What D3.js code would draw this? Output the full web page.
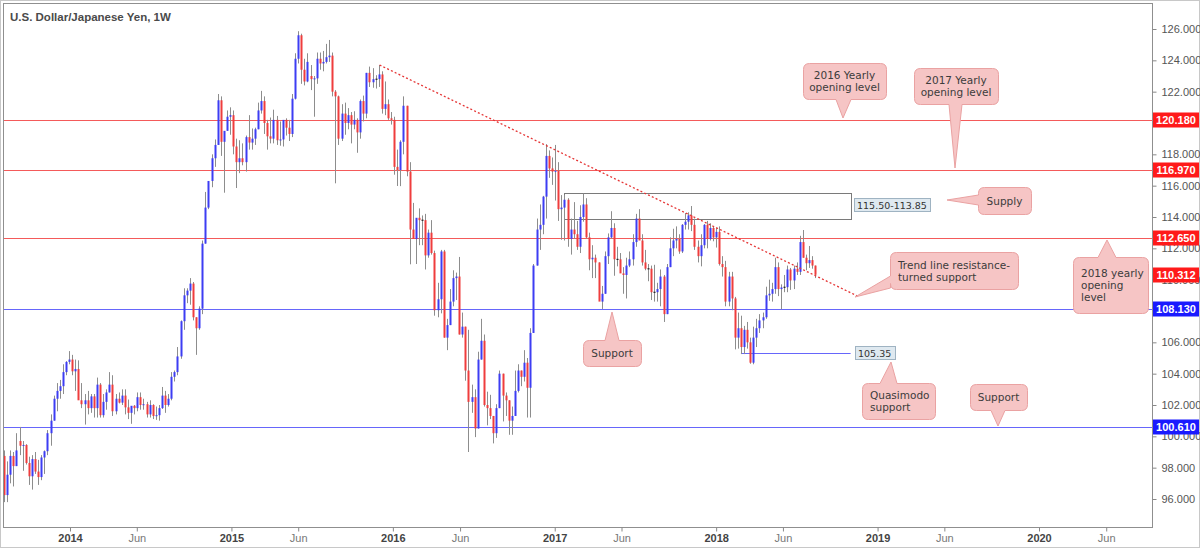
<!DOCTYPE html>
<html><head><meta charset="utf-8">
<script src="https://cdn.jsdelivr.net/npm/d3@7/dist/d3.min.js"></script>
<style>
html,body{margin:0;padding:0;background:#fff;}
svg{display:block;}
</style></head>
<body>
<svg id="chart" width="1200" height="548"></svg>
<script>
// ---------- DATA (weekly candles: [open, high, low, close]) ----------
const title = "U.S. Dollar/Japanese Yen, 1W";
const start2013 = "2013-08-05";
const candles2013 = [
[98.75,99.10,95.80,96.25],[96.25,98.40,95.80,97.55],[97.55,99.10,97.00,98.75],[98.75,99.00,96.80,98.10],
[98.10,100.20,98.10,99.10],[99.70,100.60,98.80,99.40],[99.40,99.70,97.80,99.45],[99.45,99.50,98.20,98.30],
[98.30,98.70,96.90,97.45],[97.45,98.80,96.60,98.55],[98.55,99.00,97.60,97.75],[97.75,98.50,96.90,97.40],
[97.40,98.80,97.20,98.65],[98.65,99.10,97.60,99.05],[99.05,100.40,98.80,100.20],[100.20,101.40,99.40,101.00],
[101.00,102.60,101.00,102.40],[102.40,103.40,101.60,102.90],[102.90,103.60,102.40,103.20],[103.20,104.60,102.70,104.10],
[104.10,104.80,103.90,104.75],[104.75,105.44,104.60,104.90]];
const start2014 = "2014-01-06";
const candles2014 = [
[104.90,105.20,103.90,104.15],[104.15,104.90,102.90,104.30],[104.30,104.85,102.40,102.30],[102.30,103.40,101.80,102.05],
[102.05,102.70,100.75,102.30],[102.30,102.90,101.40,101.80],[101.80,102.70,101.50,102.55],[102.55,102.70,101.20,101.80],
[101.80,103.75,101.20,103.30],[103.30,103.40,101.20,101.35],[101.35,102.70,101.20,102.20],[102.20,103.00,101.70,102.80],
[102.80,104.10,102.80,103.30],[103.30,103.90,101.30,101.60],[101.60,102.70,101.40,102.40],[102.40,102.80,102.10,102.15],
[102.15,103.00,102.00,102.60],[102.60,103.00,101.40,101.85],[101.85,102.35,101.10,101.50],[101.50,101.75,100.80,101.95],
[101.95,102.00,101.40,101.80],[101.80,102.80,101.60,102.50],[102.50,102.80,101.70,102.00],[102.00,102.40,101.70,102.05],
[102.05,102.20,101.20,101.40],[101.40,102.30,101.20,102.00],[102.00,102.05,101.10,101.30],[101.30,101.90,101.05,101.35],
[101.35,102.00,101.00,101.80],[101.80,103.15,101.75,102.60],[102.60,102.90,101.50,102.00],[102.00,102.70,101.90,102.40],
[102.40,104.10,102.30,103.80],[103.80,104.20,103.50,104.10],[104.10,105.70,103.90,105.10],[105.10,107.40,104.95,107.35],
[107.35,109.45,106.80,109.00],[109.00,109.45,108.50,109.30],[109.30,110.10,108.40,109.75],[109.75,109.85,107.40,107.60],
[107.60,107.60,105.20,106.90],[106.90,108.30,106.80,108.15],[108.15,112.50,107.80,112.30],[112.30,115.60,112.30,114.60],
[114.60,116.25,114.50,116.30],[116.30,118.00,115.90,117.75],[117.75,118.95,117.20,118.60],[118.60,121.85,118.60,121.45],
[121.45,121.70,117.90,118.80],[118.80,119.40,115.55,119.50],[119.50,120.80,119.50,120.40],[120.40,121.00,119.25,120.50]];
const start2015 = "2015-01-05";
const candles2015 = [
[120.50,120.80,118.00,118.50],[118.50,119.00,115.85,117.50],[117.50,118.90,116.80,117.75],[117.75,118.70,117.30,117.50],
[117.50,119.20,116.90,119.10],[119.10,120.50,118.30,118.75],[118.75,119.65,118.30,119.00],[119.00,119.70,118.60,119.60],
[119.60,121.30,119.60,120.80],[120.80,122.05,120.60,121.40],[121.40,121.70,119.30,120.00],[120.00,120.20,118.30,119.15],
[119.15,120.35,118.70,119.00],[119.00,120.85,118.70,120.20],[120.20,120.45,118.60,118.90],[118.90,120.10,118.55,118.95],
[118.95,120.00,118.50,120.20],[120.20,120.30,119.20,119.70],[119.70,120.20,118.85,119.30],[119.30,121.85,119.10,121.55],
[121.55,124.45,121.50,124.10],[124.10,125.86,123.80,125.60],[125.60,125.70,122.50,123.40],[123.40,124.10,122.40,122.65],
[122.65,124.45,122.60,123.90],[123.00,123.70,122.10,122.80],[122.80,123.00,120.40,122.85],[122.85,124.50,122.50,124.10],
[124.10,124.50,123.40,123.80],[123.80,124.60,123.30,123.90],[123.90,125.05,123.80,124.20],[124.20,125.30,123.90,124.30],
[124.30,124.50,121.70,122.00],[122.00,122.10,116.15,121.70],[121.70,121.75,118.60,119.00],[119.00,121.20,118.85,120.60],
[120.60,121.30,119.25,120.00],[120.00,120.95,119.60,120.50],[120.50,120.70,118.70,119.90],[119.90,120.75,119.60,120.20],
[120.20,120.30,118.10,119.40],[119.40,121.50,119.00,121.40],[121.40,121.75,120.10,120.60],[120.60,123.20,120.30,123.20],
[123.20,123.60,122.30,122.60],[122.60,123.50,122.25,122.80],[122.80,123.05,122.20,122.80],[122.80,123.70,122.30,123.10],
[123.10,123.30,120.60,120.90],[120.90,122.65,120.50,121.20],[121.20,121.50,120.20,120.30],[120.30,120.70,119.90,120.20]];
const start2016 = "2016-01-04";
const candles2016 = [
[120.20,120.40,116.70,117.20],[117.20,118.30,115.98,117.00],[117.00,118.90,115.97,118.80],[118.80,121.70,118.00,121.10],
[121.10,121.10,116.60,116.90],[116.90,117.50,110.98,113.20],[113.20,114.90,112.60,112.60],[112.60,113.90,111.00,113.95],
[113.95,114.55,112.20,113.80],[113.80,114.10,112.20,113.80],[113.80,114.20,110.65,111.55],[111.55,113.20,111.40,113.00],
[113.00,113.80,111.60,111.70],[111.70,111.85,107.70,108.05],[108.05,109.80,107.60,108.75],[108.75,111.90,107.85,111.80],
[111.80,111.90,106.30,106.30],[106.30,107.50,105.50,107.10],[107.10,109.40,107.10,108.60],[108.60,110.60,108.30,110.10],
[110.10,110.45,108.70,110.20],[110.20,111.45,106.50,106.50],[106.50,107.90,106.30,107.00],[107.00,107.00,103.55,104.20],
[104.20,106.80,99.00,102.20],[102.20,103.30,101.50,102.50],[102.50,103.00,99.95,100.50],[100.50,105.40,100.50,104.90],
[104.90,107.50,104.90,106.10],[106.10,106.50,101.90,102.00],[102.00,102.85,100.70,101.80],[101.80,102.65,101.10,101.30],
[101.30,101.30,99.55,100.20],[100.20,102.05,99.90,101.80],[101.80,104.20,101.80,104.00],[104.00,104.00,100.95,102.60],
[102.60,102.80,101.30,102.30],[102.30,102.30,100.10,101.00],[101.00,101.90,100.10,101.30],[101.30,104.20,101.30,102.90],
[102.90,104.60,102.80,104.20],[104.20,104.20,103.20,103.80],[103.80,105.50,103.50,104.70],[104.70,105.00,101.20,103.10],
[103.10,106.90,101.20,106.60],[106.60,111.00,106.60,110.90],[110.90,113.90,110.90,113.20],[113.20,114.80,111.90,113.50],
[113.50,115.35,112.90,115.30],[115.30,118.65,113.90,117.90],[117.90,118.25,116.50,117.10],[117.10,117.80,116.05,116.90]];
const start2017 = "2017-01-02";
const candles2017 = [
[116.90,118.60,115.05,116.95],[116.95,117.50,113.75,114.50],[114.50,115.40,112.55,114.60],[114.60,115.40,112.50,115.10],
[115.10,115.20,112.10,112.60],[112.60,113.90,111.60,113.20],[113.20,114.95,112.60,112.90],[112.90,113.75,111.90,112.10],
[112.10,114.75,111.70,114.00],[114.00,115.50,113.70,114.80],[114.80,115.20,112.60,112.70],[112.70,113.00,110.60,111.30],
[111.30,112.20,110.10,111.40],[111.40,111.60,110.10,111.10],[111.10,111.10,108.70,108.60],[108.60,109.60,108.13,109.10],
[109.10,111.80,109.10,111.50],[111.50,112.95,111.00,112.70],[112.70,114.37,112.60,113.30],[113.30,113.60,110.25,111.30],
[111.30,112.10,110.85,111.30],[111.30,111.70,110.60,110.40],[110.40,110.80,109.10,110.30],[110.30,111.40,108.80,110.90],
[110.90,111.80,110.80,111.30],[111.30,112.90,110.90,112.40],[112.40,114.20,112.10,113.90],[113.90,114.50,112.60,112.50],
[112.50,112.90,110.90,111.10],[111.10,111.90,110.60,110.70],[110.70,111.00,109.90,110.70],[110.70,110.90,108.70,109.20],
[109.20,110.95,108.60,109.20],[109.20,109.80,108.60,109.40],[109.40,110.65,108.30,110.20],[110.20,110.30,107.30,107.80],
[107.80,111.00,107.80,110.80],[110.80,112.70,110.80,112.00],[112.00,113.25,111.50,112.50],[112.50,113.40,112.00,112.60],
[112.60,112.90,111.65,111.80],[111.80,113.55,111.70,113.50],[113.50,114.25,113.20,113.70],[113.70,114.30,113.20,114.10],
[114.10,114.70,113.10,113.50],[113.50,113.90,111.90,112.10],[112.10,112.50,111.10,111.50],[111.50,112.90,110.85,112.20],
[112.20,113.55,112.00,113.50],[113.50,113.75,112.00,112.60],[112.60,113.60,112.50,113.30],[113.30,113.40,112.45,112.70]];
const start2018 = "2018-01-01";
const candles2018 = [
[112.70,113.30,112.05,113.05],[113.05,113.40,110.90,111.00],[111.00,111.50,110.20,110.80],[110.80,111.20,108.30,108.60],
[108.60,110.50,108.30,110.20],[110.20,110.50,108.05,108.80],[108.80,108.90,105.55,106.30],[106.30,107.90,105.60,106.90],
[106.90,107.70,105.25,105.70],[105.70,107.05,105.25,106.80],[106.80,107.30,105.60,106.00],[106.00,106.30,104.63,104.70],
[104.70,107.00,104.60,106.30],[106.30,107.50,105.70,106.90],[106.90,107.80,106.60,107.40],[107.40,107.90,106.90,107.60],
[107.60,109.55,107.50,109.00],[109.00,110.00,108.65,109.10],[109.10,109.80,108.60,109.40],[109.40,111.40,109.10,110.80],
[110.80,111.10,108.95,109.40],[109.40,109.70,108.10,109.50],[109.50,110.30,109.20,109.52],[109.52,110.90,109.20,110.65],
[110.65,110.75,109.35,109.95],[109.95,110.90,109.40,110.70],[110.70,111.10,110.30,110.50],[110.50,112.80,110.30,112.40],
[112.40,113.17,111.40,111.40],[111.40,111.60,110.60,111.05],[111.05,112.15,110.75,111.25],[111.25,111.50,110.70,110.90],
[110.90,110.90,110.10,110.312]];

// horizontal levels
const redLevels = [120.180, 116.970, 112.650];
const blueLevels = [108.130, 100.610];
const lastPrice = 110.312;
const quasimodoLevel = 105.35;
const quasimodoFrom = "2018-02-26", quasimodoTo = "2018-11-01";
const supplyTop = 115.50, supplyBottom = 113.85;
const supplyFrom = "2017-01-23", supplyTo = "2018-11-04";
const trendStart = ["2015-12-02", 123.70];
const trendEnd = ["2018-11-17", 108.95];
const yTicks = [96,98,100,102,104,106,110,112,114,116,118,122,124,126];
const xTickDates = ["2014-01-01","2014-06-01","2015-01-01","2015-06-01","2016-01-01","2016-06-01",
  "2017-01-01","2017-06-01","2018-01-01","2018-06-01","2019-01-01","2019-06-01","2020-01-01","2020-06-01"];

// ---------- LAYOUT ----------
const W = 1200, H = 548;
const pL = 3, pT = 3, pR = 1152, pB = 527;
const svg = d3.select("#chart");
const parse = s => new Date(s + "T00:00:00Z");

const x = d3.scaleUtc().domain([parse("2014-01-01"), parse("2020-01-01")]).range([70, 1039]);
const y = d3.scaleLinear().domain([96, 126]).range([499, 29]);

const candles = [];
[[start2013,candles2013],[start2014,candles2014],[start2015,candles2015],
 [start2016,candles2016],[start2017,candles2017],[start2018,candles2018]].forEach(([s, arr]) => {
  const t0 = parse(s).getTime();
  arr.forEach((d, i) => candles.push({date: new Date(t0 + i*7*864e5), o:d[0], h:d[1], l:d[2], c:d[3]}));
});

svg.append("rect").attr("x",0.5).attr("y",0.5).attr("width",W-1).attr("height",H-1)
  .attr("fill","#fff").attr("stroke","#c8c8c8");

svg.append("defs").append("clipPath").attr("id","clip")
  .append("rect").attr("x",pL).attr("y",pT).attr("width",pR-pL).attr("height",pB-pT);

const plot = svg.append("g").attr("clip-path","url(#clip)");
const RED_LINE = "#f45a5a", BLUE_LINE = "#6666fb";

plot.append("g").selectAll("line").data(redLevels).join("line")
  .attr("x1",pL).attr("x2",pR).attr("y1",d=>Math.round(y(d))+0.5).attr("y2",d=>Math.round(y(d))+0.5)
  .attr("stroke",RED_LINE).attr("stroke-width",1);
plot.append("g").selectAll("line").data(blueLevels).join("line")
  .attr("x1",pL).attr("x2",pR).attr("y1",d=>Math.round(y(d))+0.5).attr("y2",d=>Math.round(y(d))+0.5)
  .attr("stroke",BLUE_LINE).attr("stroke-width",1.2);

plot.append("line").attr("x1",x(parse(quasimodoFrom))).attr("x2",x(parse(quasimodoTo)))
  .attr("y1",Math.round(y(quasimodoLevel))+0.5).attr("y2",Math.round(y(quasimodoLevel))+0.5)
  .attr("stroke",BLUE_LINE).attr("stroke-width",1.2);

plot.append("rect").attr("x",Math.round(x(parse(supplyFrom)))+0.5).attr("y",Math.round(y(supplyTop))+0.5)
  .attr("width",Math.round(x(parse(supplyTo))-x(parse(supplyFrom)))).attr("height",Math.round(y(supplyBottom)-y(supplyTop)))
  .attr("fill","none").attr("stroke","#7a7a7a").attr("stroke-width",1);

const cg = plot.append("g");
cg.selectAll("line").data(candles).join("line")
  .attr("x1",d=>Math.round(x(d.date))+0.5).attr("x2",d=>Math.round(x(d.date))+0.5)
  .attr("y1",d=>y(d.h)).attr("y2",d=>y(d.l)).attr("stroke","#8d8d8d").attr("stroke-width",1);
cg.selectAll("rect").data(candles).join("rect")
  .attr("x",d=>Math.round(x(d.date))-0.5).attr("width",2)
  .attr("y",d=>Math.abs(d.c-d.o)<0.04 ? y(d.c)-0.5 : y(Math.max(d.o,d.c)))
  .attr("height",d=>Math.abs(d.c-d.o)<0.04 ? 1.2 : Math.max(1, Math.abs(y(d.o)-y(d.c))))
  .attr("fill",d=>Math.abs(d.c-d.o)<0.04 ? "#222" : (d.c>d.o ? "#3d3df3" : "#ef3d3d"));

plot.append("line").attr("x1",x(parse(trendStart[0]))).attr("y1",y(trendStart[1]))
  .attr("x2",x(parse(trendEnd[0]))).attr("y2",y(trendEnd[1]))
  .attr("stroke","#e53535").attr("stroke-width",1.3).attr("stroke-dasharray","2,2.2");

svg.append("rect").attr("x",pL+0.5).attr("y",pT+0.5).attr("width",pR-pL).attr("height",pB-pT)
  .attr("fill","none").attr("stroke","#8f8f8f");

svg.append("text").attr("x",10).attr("y",21).text(title)
  .attr("font-family","'Liberation Sans', Arial, sans-serif").attr("font-weight","bold")
  .attr("font-size",11.5).attr("fill","#4a4a4a");

const yAxis = svg.append("g").attr("transform",`translate(${pR+0.5},0)`)
  .call(d3.axisRight(y).tickValues(yTicks).tickFormat(d3.format(".3f")).tickSize(4).tickPadding(5));
yAxis.select(".domain").remove();
yAxis.selectAll("line").attr("stroke","#888");
yAxis.selectAll("text").attr("font-family","'Liberation Sans', Arial, sans-serif").attr("font-size",11).attr("fill","#555");

const xAxis = svg.append("g").attr("transform",`translate(0,${pB+0.5})`)
  .call(d3.axisBottom(x).tickValues(xTickDates.map(parse)).tickSize(4).tickPadding(3)
    .tickFormat(d => d.getUTCMonth()===0 ? d3.utcFormat("%Y")(d) : d3.utcFormat("%b")(d)));
xAxis.select(".domain").remove();
xAxis.selectAll("line").attr("stroke","#888");
xAxis.selectAll("text").attr("font-family","'Liberation Sans', Arial, sans-serif").attr("font-size",11)
  .attr("fill",d=>d.getUTCMonth()===0 ? "#444" : "#777")
  .attr("font-weight",d=>d.getUTCMonth()===0 ? "bold" : "normal");

const priceLabels = redLevels.map(v=>({v, col:"#ff1a1a"}))
  .concat([{v:lastPrice, col:"#ff1a1a"}])
  .concat(blueLevels.map(v=>({v, col:"#1a1aff"})));
const pl = svg.append("g").selectAll("g").data(priceLabels).join("g")
  .attr("transform",d=>`translate(${pR+1},${Math.round(y(d.v))})`);
pl.append("rect").attr("x",0).attr("y",-7.5).attr("width",46).attr("height",15).attr("fill",d=>d.col);
pl.append("text").attr("x",23).attr("y",4).attr("text-anchor","middle").text(d=>d3.format(".3f")(d.v))
  .attr("font-family","'Liberation Sans', Arial, sans-serif").attr("font-weight","bold")
  .attr("font-size",11).attr("fill","#fff");

function valueBox(xp, yc, txt){
  const g = svg.append("g");
  const r = g.append("rect").attr("x",xp+0.5).attr("y",yc-6.5).attr("height",13)
    .attr("fill","#dfe9f0").attr("stroke","#9fb3c2");
  const t = g.append("text").attr("x",xp+3).attr("y",yc+3.5).text(txt)
    .attr("font-family","'DejaVu Sans', Verdana, sans-serif").attr("font-size",9.5).attr("fill","#333");
  r.attr("width", Math.ceil(t.node().getComputedTextLength()) + 6);
}
valueBox(854, Math.round((y(supplyTop)+y(supplyBottom))/2)-1, "115.50-113.85");
valueBox(855, Math.round(y(quasimodoLevel)), "105.35");

function calloutPath(x0,y0,w,h,r,side,b1,b2,tx,ty){
  let p = `M${x0+r},${y0}`;
  if(side==="top") p += `L${b1},${y0}L${tx},${ty}L${b2},${y0}`;
  p += `L${x0+w-r},${y0}Q${x0+w},${y0} ${x0+w},${y0+r}`;
  if(side==="right") p += `L${x0+w},${b1}L${tx},${ty}L${x0+w},${b2}`;
  p += `L${x0+w},${y0+h-r}Q${x0+w},${y0+h} ${x0+w-r},${y0+h}`;
  if(side==="bottom") p += `L${b2},${y0+h}L${tx},${ty}L${b1},${y0+h}`;
  p += `L${x0+r},${y0+h}Q${x0},${y0+h} ${x0},${y0+h-r}`;
  if(side==="left") p += `L${x0},${b2}L${tx},${ty}L${x0},${b1}`;
  p += `L${x0},${y0+r}Q${x0},${y0} ${x0+r},${y0}Z`;
  return p;
}
const callouts = [
  {lines:["2016 Yearly","opening level"], x:803,y:63,w:83,h:36, side:"bottom", b1:836,b2:851, tx:843,ty:118, anchor:"middle"},
  {lines:["2017 Yearly","opening level"], x:914,y:68,w:84,h:36, side:"bottom", b1:949,b2:962, tx:955,ty:168, anchor:"middle"},
  {lines:["Supply"], x:978,y:187,w:53,h:27, side:"left", b1:195,b2:205, tx:947,ty:200, anchor:"middle"},
  {lines:["Trend line resistance-","turned support"], x:890,y:252,w:128,h:37, side:"left", b1:276,b2:288, tx:855,ty:297, anchor:"start"},
  {lines:["2018 yearly","opening","level"], x:1073,y:257,w:75,h:56, side:"top", b1:1098,b2:1116, tx:1107,ty:240, anchor:"start"},
  {lines:["Support"], x:583,y:340,w:58,h:26, side:"top", b1:605,b2:619, tx:612,ty:312, anchor:"middle"},
  {lines:["Quasimodo","support"], x:862,y:383,w:73,h:36, side:"top", b1:880,b2:897, tx:891,ty:362, anchor:"start"},
  {lines:["Support"], x:970,y:384,w:57,h:26, side:"bottom", b1:991,b2:1005, tx:998,ty:426, anchor:"middle"}
];
const cgp = svg.append("g");
callouts.forEach(c => {
  cgp.append("path").attr("d",calloutPath(c.x+0.5,c.y+0.5,c.w,c.h,6,c.side,c.b1,c.b2,c.tx,c.ty))
    .attr("fill","#f6c5c5").attr("stroke","#eaa2a2").attr("stroke-width",1);
  const lh = 12;
  const ty0 = c.y + c.h/2 - (c.lines.length-1)*lh/2 + 4;
  const t = cgp.append("text").attr("font-family","'DejaVu Sans', Verdana, sans-serif")
    .attr("font-size",10.5).attr("fill","#3c3c3c").attr("text-anchor",c.anchor);
  c.lines.forEach((ln,i) => {
    t.append("tspan").attr("x", c.anchor==="middle" ? c.x+c.w/2 : c.x+8).attr("y", ty0 + i*lh).text(ln);
  });
});
</script>
</body></html>
